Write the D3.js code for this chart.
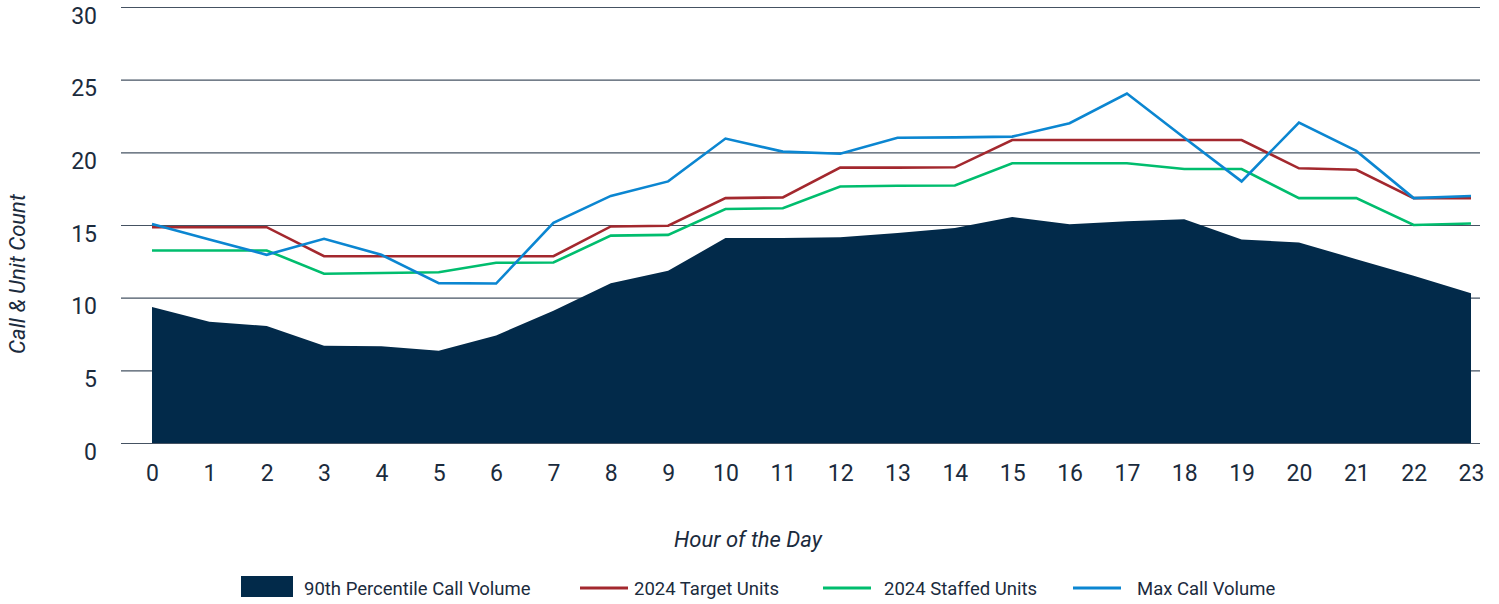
<!DOCTYPE html>
<html>
<head>
<meta charset="utf-8">
<script src="https://cdn.jsdelivr.net/npm/d3@7"></script>
<style>
  html, body { margin: 0; padding: 0; background: #fff; }
  svg { display: block; font-family: Roboto, "DejaVu Sans", sans-serif; }
</style>
</head>
<body>
<svg id="chart" width="1499" height="604"></svg>
<script>
const hours = [0,1,2,3,4,5,6,7,8,9,10,11,12,13,14,15,16,17,18,19,20,21,22,23];
const p90CallVolume = [9.35,8.35,8.05,6.7,6.65,6.35,7.4,9.1,11.0,11.85,14.1,14.1,14.15,14.45,14.8,15.55,15.05,15.25,15.4,14.0,13.8,12.65,11.5,10.3];
const targetUnits   = [14.85,14.85,14.85,12.85,12.85,12.85,12.85,12.85,14.9,14.95,16.85,16.9,18.95,18.95,18.97,20.85,20.85,20.85,20.85,20.85,18.9,18.8,16.85,16.85];
const staffedUnits  = [13.25,13.25,13.25,11.65,11.7,11.75,12.4,12.42,14.27,14.32,16.1,16.15,17.65,17.7,17.72,19.25,19.25,19.25,18.85,18.85,16.85,16.85,15.0,15.1];
const maxCallVolume = [15.07,14.0,12.95,14.05,12.95,11.0,10.97,15.15,17.0,18.0,20.95,20.05,19.9,21.0,21.03,21.08,22.0,24.05,21.0,18.0,22.05,20.1,16.85,17.0];
const yTicks = [0,5,10,15,20,25,30];
const seriesNames = ["90th Percentile Call Volume","2024 Target Units","2024 Staffed Units","Max Call Volume"];
const colors = { area: "#022a4a", target: "#a3282e", staffed: "#00bd6e", max: "#0b86d1", text: "#1b2b3d", grid: "#243447" };

const svg = d3.select("#chart");
const x = d3.scaleLinear().domain([0, 23]).range([152, 1471]);
const y = d3.scaleLinear().domain([0, 30]).range([443, 7]);
const gridLeft = 121, gridRight = 1480;

// gridlines
const grid = svg.append("g").attr("transform", `translate(${gridLeft},0)`)
  .call(d3.axisLeft(y).tickValues(yTicks).tickSize(-(gridRight - gridLeft)).tickFormat(""));
grid.select(".domain").remove();
grid.selectAll("line").attr("stroke", colors.grid).attr("stroke-width", 1.2).attr("opacity", 0.85);

// area
svg.append("path")
  .datum(hours)
  .attr("fill", colors.area)
  .attr("d", d3.area().x(i => x(i)).y0(y(0)).y1(i => y(p90CallVolume[i])));

// lines
const line = arr => d3.line().x(i => x(i)).y(i => y(arr[i]));
[[targetUnits, colors.target],[staffedUnits, colors.staffed],[maxCallVolume, colors.max]].forEach(([arr, c]) => {
  svg.append("path").datum(hours).attr("fill", "none").attr("stroke", c)
    .attr("stroke-width", 2.6).attr("stroke-linejoin", "miter").attr("d", line(arr));
});

// y axis labels
const yAxis = svg.append("g").attr("transform", `translate(${gridLeft},0)`)
  .call(d3.axisLeft(y).tickValues(yTicks).tickSize(0).tickPadding(24));
yAxis.select(".domain").remove();
yAxis.selectAll("text").attr("font-size", 23).attr("fill", colors.text)
  .attr("font-family", "Roboto, sans-serif").attr("dy", "0.7em");

// x axis labels
const xAxis = svg.append("g").attr("transform", `translate(0,${y(0)})`)
  .call(d3.axisBottom(x).tickValues(hours).tickSize(0).tickPadding(22).tickFormat(d3.format("d")));
xAxis.select(".domain").remove();
xAxis.selectAll("text").attr("font-size", 23).attr("fill", colors.text).attr("font-family", "Roboto, sans-serif");

// axis titles
svg.append("text").attr("transform", "translate(25,274) rotate(-90)")
  .attr("text-anchor", "middle").attr("font-style", "italic").attr("font-size", 22)
  .attr("fill", colors.text).text("Call & Unit Count");
svg.append("text").attr("x", 748).attr("y", 547)
  .attr("text-anchor", "middle").attr("font-style", "italic").attr("font-size", 22)
  .attr("fill", colors.text).text("Hour of the Day");

// legend
const legend = svg.append("g");
const legendItems = [
  { name: seriesNames[0], type: "rect", color: colors.area, sx: 241, tx: 304 },
  { name: seriesNames[1], type: "line", color: colors.target, sx: 580, tx: 634 },
  { name: seriesNames[2], type: "line", color: colors.staffed, sx: 823, tx: 884 },
  { name: seriesNames[3], type: "line", color: colors.max, sx: 1073, tx: 1137 }
];
legendItems.forEach(it => {
  if (it.type === "rect") {
    legend.append("rect").attr("x", it.sx).attr("y", 576).attr("width", 52).attr("height", 21).attr("fill", it.color);
  } else {
    legend.append("line").attr("x1", it.sx).attr("x2", it.sx + 48).attr("y1", 588).attr("y2", 588)
      .attr("stroke", it.color).attr("stroke-width", 3);
  }
  legend.append("text").attr("x", it.tx).attr("y", 594.5).attr("font-size", 18.5)
    .attr("fill", colors.text).text(it.name);
});
</script>
</body>
</html>
